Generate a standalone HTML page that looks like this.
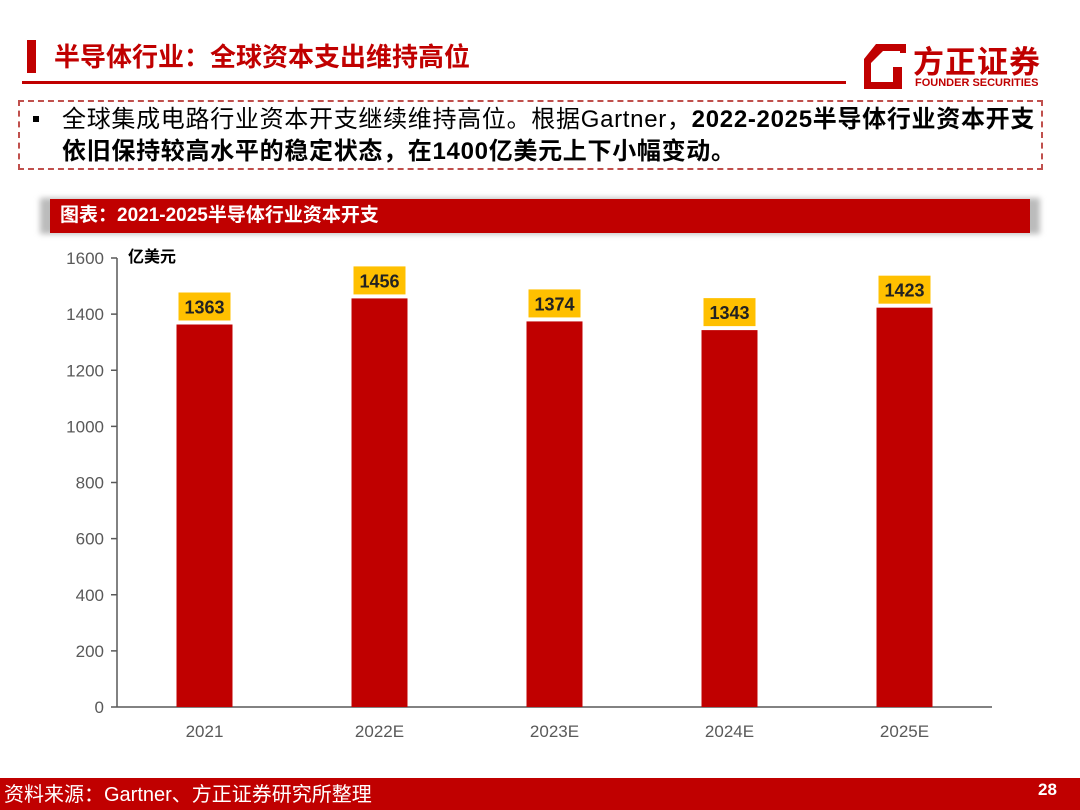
<!DOCTYPE html>
<html><head><meta charset="utf-8">
<style>
body{margin:0;width:1080px;height:810px;background:#fff;position:relative;overflow:hidden;font-family:"Liberation Sans","Noto Sans CJK SC",sans-serif;}
.abs{position:absolute;}
</style></head><body>
<div class="abs" style="left:27px;top:40px;width:9px;height:33px;background:#c00000"></div>
<div class="abs" style="left:54px;top:40px;font-size:26px;font-weight:bold;color:#c00000;line-height:34px">半导体行业：全球资本支出维持高位</div>
<div class="abs" style="left:22px;top:81px;width:824px;height:3px;background:#c00000"></div>
<div class="abs" style="left:862px;top:40px;width:190px;height:52px">
 <svg width="52" height="52" style="position:absolute;left:0;top:0"><path d="M14 4 H44 V13 L38 13 L38 11 L21 11 L9 23 V42 H31 V27 H40 V49 H2 V19 Z" fill="#c00000"/></svg>
 <div style="position:absolute;left:51px;top:-3px;font-size:31px;font-weight:bold;color:#c00000;letter-spacing:1px">方正证券</div>
 <div style="position:absolute;left:53px;top:37px;font-size:11px;font-weight:bold;color:#c00000;white-space:nowrap">FOUNDER SECURITIES</div>
</div>
<div class="abs" style="left:18px;top:100px;width:1025px;height:70px;border:2px dashed #c0504d;box-sizing:border-box"></div>
<div class="abs" style="left:33px;top:116px;width:6px;height:6px;background:#000"></div>
<div class="abs" style="left:62px;top:104px;width:1000px;font-size:24px;line-height:32px;color:#000;white-space:nowrap;letter-spacing:0.7px">全球集成电路行业资本开支继续维持高位。根据Gartner，<b>2022-2025半导体行业资本开支</b><br><b>依旧保持较高水平的稳定状态，在1400亿美元上下小幅变动。</b></div>
<div class="abs" style="left:40px;top:198px;width:1000px;height:36px;background:#bbb;filter:blur(3px)"></div>
<div class="abs" style="left:50px;top:199px;width:980px;height:34px;background:#c00000;color:#fff;font-weight:bold;font-size:19px;line-height:34px;padding-left:10px;box-sizing:border-box">图表：2021-2025半导体行业资本开支</div>
<svg class="abs" style="left:0;top:0" width="1080" height="810" id="chart"></svg>
<div class="abs" style="left:0;top:778px;width:1080px;height:32px;background:#c00000"></div>
<div class="abs" style="left:4px;top:782px;font-size:20px;color:#fff;line-height:26px">资料来源：Gartner、方正证券研究所整理</div>
<div class="abs" style="left:1038px;top:778px;font-size:17px;font-weight:bold;color:#fff;line-height:24px">28</div>
<script>
const categories=["2021","2022E","2023E","2024E","2025E"];
const values=[1363,1456,1374,1343,1423];
const yTicks=[0,200,400,600,800,1000,1200,1400,1600];
const NS="http://www.w3.org/2000/svg";
const svg=document.getElementById('chart');
const x0=117,x1=992,yBase=707,yTop=258,yMax=1600;
const y=v=>yBase-(v/yMax)*(yBase-yTop);
const band=(x1-x0)/categories.length;
const xc=i=>x0+band*(i+0.5);
function el(t,a){const e=document.createElementNS(NS,t);for(const k in a)e.setAttribute(k,a[k]);svg.appendChild(e);return e;}
const ax=el('line',{x1:x0,x2:x0,y1:yTop,y2:yBase,stroke:'#595959','stroke-width':1.5});


const bx=el('line',{x1:x0,x2:x1,y1:yBase,y2:yBase,stroke:'#595959','stroke-width':1.5});


yTicks.forEach(t=>{
 const tk=el('line',{x1:x0-6,x2:x0,y1:y(t),y2:y(t),stroke:'#595959','stroke-width':1.5});
 
 
 const tx=el('text',{x:104,y:y(t)+6,'text-anchor':'end','font-size':17,fill:'#595959'});
 tx.textContent=t;
 
 
});
const u=el('text',{x:128,y:262,'font-size':16,'font-weight':'bold',fill:'#000'});
u.textContent='亿美元';


categories.forEach((c,i)=>{
 const bw=56;
 const r=el('rect',{x:xc(i)-bw/2,y:y(values[i]),width:bw,height:yBase-y(values[i]),fill:'#c00000'});
 
 
 const lb=el('rect',{x:xc(i)-26,y:y(values[i])-32,width:52,height:28,fill:'#ffc000'});
 
 
 const vt=el('text',{x:xc(i),y:y(values[i])-11,'text-anchor':'middle','font-size':18,'font-weight':'bold',fill:'#222'});
 vt.textContent=values[i];
 
 
 const ct=el('text',{x:xc(i),y:737,'text-anchor':'middle','font-size':17,fill:'#595959'});
 ct.textContent=c;
 
 
});
</script>
</body></html>
